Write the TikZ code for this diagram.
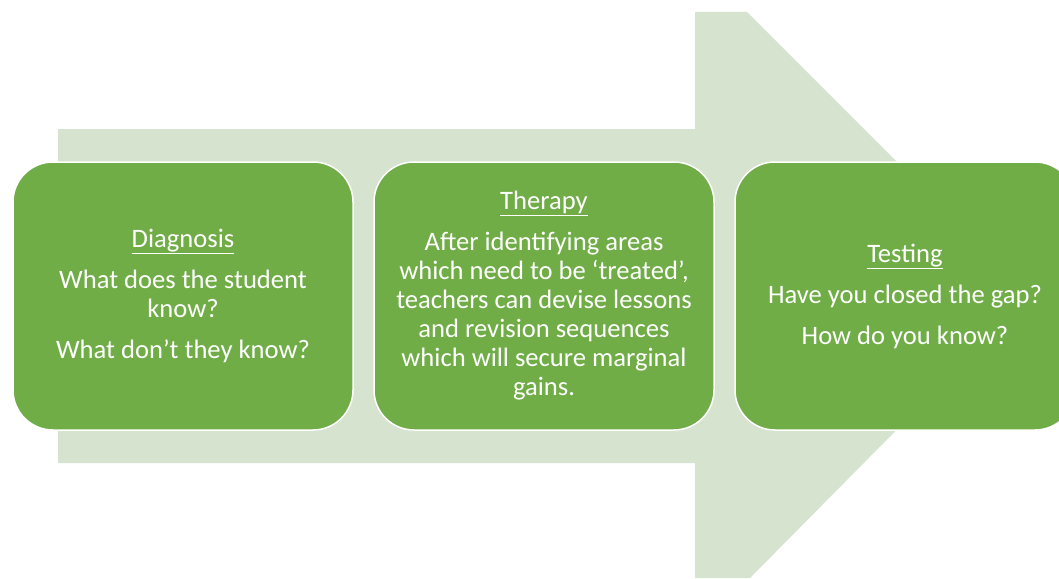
\documentclass[tikz,border=0pt]{standalone}
\usepackage{fontspec}
\setmainfont{Carlito}
\definecolor{boxgreen}{HTML}{70AD47}
\definecolor{arrowgreen}{HTML}{D6E3CE}
\newcommand{\ttlline}[1]{\underline{#1}}
\begin{document}
\begin{tikzpicture}[x=1pt,y=-1pt,
  stagebox/.style={draw=white, line width=1.5pt, fill=boxgreen, rounded corners=40pt,
    minimum width=340pt, minimum height=268pt, text=white, align=center,
    font=\fontsize{26.6}{29}\selectfont, inner sep=0pt}]
\useasboundingbox (0,0) rectangle (1059,578);
\begin{scope}
\clip (0,0) rectangle (1059,578);
\fill[arrowgreen] (58,129) -- (695,129) -- (695,12) -- (747,12) -- (1030,295)
  -- (750,578) -- (695,578) -- (695,463) -- (58,463) -- cycle;
\node[stagebox] (diag) at (183,296) {\ttlline{Diagnosis}\\[12pt]What does the student\\know?\\[12pt]What don’t they know?};
\node[stagebox] (ther) at (544,296) {\ttlline{Therapy}\\[12pt]After identifying areas\\which need to be ‘treated’,\\teachers can devise lessons\\and revision sequences\\which will secure marginal\\gains.};
\node[stagebox] (test) at (905,296) {\ttlline{Testing}\\[12pt]Have you closed the gap?\\[12pt]How do you know?};
\end{scope}
\end{tikzpicture}
\end{document}
